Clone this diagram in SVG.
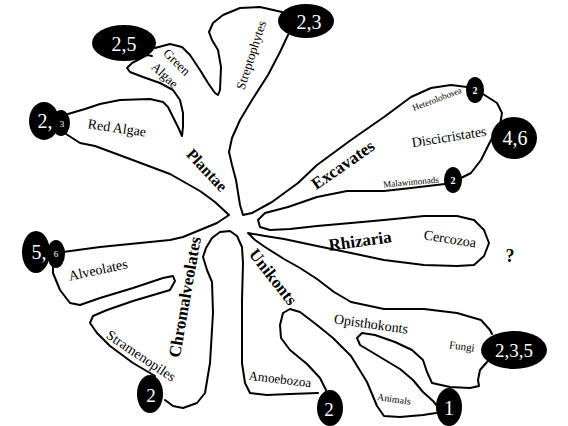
<svg xmlns="http://www.w3.org/2000/svg" width="568" height="426" viewBox="0 0 568 426">
<style>
.ln{fill:none;stroke:#000;stroke-width:2;stroke-linejoin:round;stroke-linecap:round}
.b{fill:#000}
text{font-family:"Liberation Serif","Times New Roman",serif;fill:#000;text-anchor:middle;dominant-baseline:central}
.w{fill:#fff}
.bd{font-weight:bold}
</style>
<rect width="568" height="426" fill="#fff"/>
<g id="connectors">
<path class="ln" d="M66,134 L80,143 L95,146 L130,159 L170,174 L200,191 L215,202 L229,215 L217,223 L200,230 L183,237 L170,240 L150,242 L100,247 L63,252"/>
<path class="ln" d="M68,114 L85,109 L100,104 L120,100 L150,99 L163,102 L168,107 L173,117 L178,127 L182,136 L183,127 L183,113 L180,100 L173,90 L160,83 L143,77 L130,72 L127,68 L132,63 L147,55 L152,56"/>
<path class="ln" d="M155,48 L170,44 L182,47 L190,55 L200,70 L208,83 L215,93 L218,95 L220,90 L221,67 L218,50 L212,40 L209,32 L213,23 L223,15 L240,8 L260,7 L282,12"/>
<path class="ln" d="M288,35 L280,52 L268,75 L252,100 L240,120 L232,138 L229,152 L232,165 L236,180 L240,205 L243,215 L252,213 L272,202 L298,183 L317,165 L351,140 L384,117 L411,97 L431,88 L451,85 L467,87"/>
<path class="ln" d="M483,94 L497,103 L502,113 L500,125 L491,140 L481,160 L471,173 L461,178"/>
<path class="ln" d="M445,184 L411,188 L384,191 L347,191 L317,197 L288,207 L265,213 L258,220 L260,227 L270,230 L290,229 L317,226 L351,223 L384,220 L424,216 L457,216 L474,220 L484,230 L489,243 L484,256 L474,265 L457,266 L424,265 L384,260 L351,253 L317,246 L284,239 L265,236 L248,233 L255,240 L265,247 L284,259 L300,268 L317,279 L334,292 L351,302 L384,309 L424,309 L457,313 L481,320 L490,330 L492,334"/>
<path class="ln" d="M487,362 L480,370 L478,380 L479,386 L470,388 L450,387 L432,383 L427,372 L423,360 L412,350 L395,342 L375,335 L362,333 L357,338 L360,345 L380,357 L400,369 L413,380 L423,392 L433,401 L438,407"/>
<path class="ln" d="M436,413 L423,415 L400,417 L384,416 L377,406 L367,382 L351,356 L333,338 L317,325 L300,312 L290,309 L283,313 L280,325 L281,338 L290,350 L307,364 L320,378 L326,390"/>
<path class="ln" d="M318,393 L290,394 L267,395 L250,393 L245,383 L242,363 L242,300 L243,263 L242,247 L237,236 L230,231 L220,232 L212,238 L206,248 L203,257 L207,270 L212,282 L213,313 L210,363 L205,393 L197,403 L183,408 L173,406 L165,400"/>
<path class="ln" d="M155,376 L150,373 L133,363 L110,346 L97,333 L90,323 L93,316 L107,310 L133,301 L160,293 L170,290 L175,281 L173,276 L163,278 L133,288 L100,298 L80,305 L70,303 L60,290 L53,273 L53,265"/>
</g>
<g id="n-green-algae-blob"><ellipse class="b" cx="124" cy="43" rx="32" ry="18"/><text class="w" x="124" y="44" font-size="20">2,5</text></g>
<g id="n-strepto-blob"><ellipse class="b" cx="306" cy="21" rx="28" ry="17"/><text class="w" x="309" y="22" font-size="20">2,3</text></g>
<g id="n-red-algae-blob"><ellipse class="b" cx="44" cy="121" rx="15" ry="19"/><ellipse class="b" cx="61" cy="123" rx="9" ry="13"/><text class="w" x="45" y="121" font-size="20">2,</text><text class="w" x="62" y="124" font-size="9">3</text></g>
<g id="n-hetero-blob"><ellipse class="b" cx="475" cy="90" rx="9" ry="13"/><text class="w bd" x="475" y="90" font-size="10">2</text></g>
<g id="n-disci-blob"><ellipse class="b" cx="514" cy="138" rx="23" ry="21"/><text class="w" x="515" y="138" font-size="20">4,6</text></g>
<g id="n-malawi-blob"><ellipse class="b" cx="453" cy="180" rx="9" ry="13"/><text class="w bd" x="453" y="180" font-size="10">2</text></g>
<g id="n-alveo-blob"><ellipse class="b" cx="36" cy="252" rx="14" ry="21"/><ellipse class="b" cx="56" cy="254" rx="9" ry="14"/><text class="w" x="39" y="252" font-size="20">5,</text><text class="w" x="56" y="254" font-size="9">6</text></g>
<g id="n-strameno-blob"><ellipse class="b" cx="150" cy="394" rx="13" ry="19"/><text class="w" x="151" y="395" font-size="19">2</text></g>
<g id="n-amoebo-blob"><ellipse class="b" cx="330" cy="408" rx="13" ry="18"/><text class="w" x="329" y="409" font-size="19">2</text></g>
<g id="n-animals-blob"><ellipse class="b" cx="449" cy="407" rx="13" ry="19"/><text class="w" x="449" y="408" font-size="20">1</text></g>
<g id="n-fungi-blob"><ellipse class="b" cx="514" cy="350" rx="33" ry="19"/><text class="w" x="514" y="350" font-size="19">2,3,5</text></g>
<g id="labels">
<text transform="translate(177,62) rotate(45)" font-size="13">Green</text>
<text transform="translate(165,75) rotate(43)" font-size="13">Algae</text>
<text transform="translate(251,55) rotate(-72)" font-size="13">Streptophytes</text>
<text transform="translate(117,128) rotate(8)" font-size="14">Red Algae</text>
<text class="bd" transform="translate(207,170) rotate(47)" font-size="16">Plantae</text>
<text class="bd" transform="translate(343,165) rotate(-35)" font-size="17">Excavates</text>
<text transform="translate(437,99) rotate(-21)" font-size="9">Heterolobosea</text>
<text transform="translate(449,137) rotate(-9)" font-size="14">Discicristates</text>
<text transform="translate(411,182) rotate(-5)" font-size="9">Malawimonads</text>
<text class="bd" transform="translate(360,241) rotate(-8)" font-size="17">Rhizaria</text>
<text transform="translate(450,239) rotate(9)" font-size="14">Cercozoa</text>
<text class="bd" x="510" y="256" font-size="18">?</text>
<text transform="translate(98,270) rotate(-12)" font-size="14">Alveolates</text>
<text class="bd" transform="translate(185,297) rotate(-80)" font-size="17">Chromalveolates</text>
<text transform="translate(141,356) rotate(34)" font-size="14">Stramenopiles</text>
<text class="bd" transform="translate(273,277) rotate(52)" font-size="17">Unikonts</text>
<text transform="translate(280,379) rotate(7)" font-size="13">Amoebozoa</text>
<text transform="translate(371,324) rotate(8)" font-size="14">Opisthokonts</text>
<text transform="translate(462,346) rotate(8)" font-size="11">Fungi</text>
<text transform="translate(394,399) rotate(8)" font-size="10">Animals</text>
</g>
</svg>
